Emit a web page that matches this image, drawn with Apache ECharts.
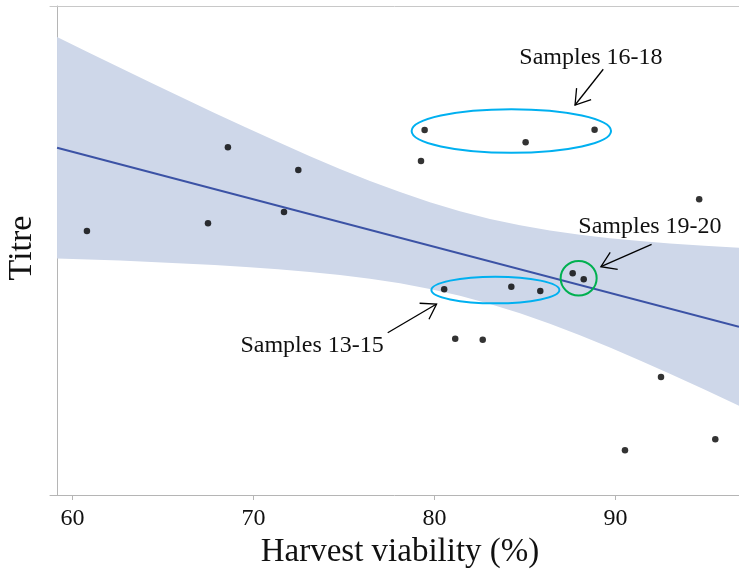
<!DOCTYPE html>
<html>
<head>
<meta charset="utf-8">
<script src="https://cdn.jsdelivr.net/npm/echarts@6/dist/echarts.min.js"></script>
<style>
html,body{margin:0;padding:0;background:#fff;}
#chart{width:739px;height:581px;}
</style>
</head>
<body>
<div id="chart"></div>
<script>
// ---- data ----
var xTicks = [60, 70, 80, 90];
var sampleX = [60.79, 67.48, 68.58, 71.68, 72.47, 79.25, 79.45, 85.03, 88.84, 80.53,
               84.24, 85.84, 87.63, 88.24, 81.14, 82.66, 94.62, 92.51, 90.52, 95.51];
var sampleY = [53.99, 55.56, 71.10, 57.87, 66.46, 68.30, 74.64, 72.13, 74.70, 42.07,
               42.60, 41.72, 45.34, 44.11, 31.96, 31.76, 60.47, 24.13, 9.14, 11.39];
var fitX = [59.14, 96.82];
var fitY = [71.02, 34.42];
var bandX = [59.14, 60.88, 62.62, 64.36, 66.10, 67.84, 69.58, 71.35, 73.11, 74.77, 76.43, 78.09,
             79.74, 81.40, 83.06, 84.72, 86.37, 88.03, 89.69, 91.35, 93.00, 94.91, 96.82];
var bandUpper = [93.66, 90.49, 87.36, 84.25, 81.17, 78.14, 75.13, 72.17, 69.28, 66.69, 64.21, 61.94,
                 59.88, 58.04, 56.46, 55.17, 54.11, 53.23, 52.52, 51.94, 51.45, 50.96, 50.57];
var bandLower = [48.38, 48.16, 47.93, 47.65, 47.34, 47.01, 46.63, 46.16, 45.60, 44.97, 44.21, 43.29,
                 42.13, 40.74, 39.08, 37.18, 35.01, 32.66, 30.14, 27.53, 24.79, 21.55, 18.26];
var xTitle = 'Harvest viability (%)';
var yTitle = 'Titre';
// annotations (data coordinates)
var ellipses = [
  {c: [84.24, 74.44], rx: 99.7, ry: 21.8, color: '#00b0f0'},
  {c: [83.36, 41.92], rx: 64, ry: 13.3, color: '#00b0f0'},
  {c: [87.96, 44.31], rx: 18, ry: 17.3, color: '#00b050'}
];
var notes = [
  {text: 'Samples 16-18', at: [88.64, 89.37], tail: [89.32, 87.06], tip: [87.76, 79.75]},
  {text: 'Samples 19-20', at: [91.90, 54.81], tail: [91.99, 51.27], tip: [89.19, 46.69]},
  {text: 'Samples 13-15', at: [73.23, 30.47], tail: [77.41, 33.19], tip: [80.11, 39.06]}
];

var serif = '"Liberation Serif", "Times New Roman", serif';
var chart = echarts.init(document.getElementById('chart'));

var bandData = bandX.map(function (x, i) { return [x, bandLower[i], bandUpper[i]]; });
var fitData = fitX.map(function (x, i) { return [x, fitY[i]]; });
var pts = sampleX.map(function (x, i) { return [x, sampleY[i]]; });

var xMin = 58.75, xMax = 96.82;
chart.setOption({
  animation: false,
  grid: {left: 50, right: 0, top: 6, bottom: 86},
  xAxis: [{
    type: 'value', min: xMin, max: xMax, position: 'bottom',
    axisLine: {show: true, lineStyle: {color: '#b5b5b5', width: 1}},
    axisTick: {show: true, length: 5, lineStyle: {color: '#b5b5b5'}, customValues: xTicks},
    axisLabel: {show: true, customValues: xTicks, margin: 12, color: '#111',
      fontFamily: serif, fontSize: 24},
    splitLine: {show: false}
  }, {
    type: 'value', min: xMin, max: xMax, position: 'top',
    axisLine: {show: true, lineStyle: {color: '#c8c8c8', width: 1}},
    axisTick: {show: false}, axisLabel: {show: false}, splitLine: {show: false}
  }],
  yAxis: {
    type: 'value', min: 0, max: 100, offset: -7,
    axisLine: {show: true, lineStyle: {color: '#b5b5b5', width: 1}},
    axisTick: {show: false}, axisLabel: {show: false}, splitLine: {show: false}
  },
  series: [
    {type: 'custom', data: bandData, silent: true, z: 1,
     encode: {x: 0, y: [1, 2]},
     renderItem: function (params, api) {
       if (params.dataIndex !== 0) return null;
       var up = [], lo = [];
       for (var i = 0; i < bandData.length; i++) {
         up.push(api.coord([bandData[i][0], bandData[i][2]]));
         lo.unshift(api.coord([bandData[i][0], bandData[i][1]]));
       }
       return {type: 'polygon', shape: {points: up.concat(lo)},
         style: {fill: '#ced7e9'}};
     }},
    {type: 'line', data: fitData, symbol: 'none',
     lineStyle: {color: '#3b52a5', width: 2}, z: 2},
    {type: 'scatter', data: pts, symbol: 'circle', symbolSize: 6.5,
     itemStyle: {color: '#000'}, z: 3}
  ]
});

function px(p) { return chart.convertToPixel({xAxisIndex: 0, yAxisIndex: 0}, p); }

var g = [];
ellipses.forEach(function (e) {
  var c = px(e.c);
  g.push({type: 'ellipse', shape: {cx: c[0], cy: c[1], rx: e.rx, ry: e.ry},
    style: {fill: null, stroke: e.color, lineWidth: 2}, z: 10});
});
notes.forEach(function (n) {
  var a = px(n.at), t0 = px(n.tail), t1 = px(n.tip);
  g.push({type: 'text', x: a[0], y: a[1], z: 11,
    style: {text: n.text, fill: '#111', font: '24px ' + serif, align: 'center', verticalAlign: 'middle'}});
  g.push({type: 'line', shape: {x1: t0[0], y1: t0[1], x2: t1[0], y2: t1[1]},
    style: {stroke: '#000', lineWidth: 1.3}, z: 11});
  var ang = Math.atan2(t0[1] - t1[1], t0[0] - t1[0]);
  var L = 17, d = 33 * Math.PI / 180;
  g.push({type: 'polyline', shape: {points: [
      [t1[0] + L * Math.cos(ang + d), t1[1] + L * Math.sin(ang + d)],
      [t1[0], t1[1]],
      [t1[0] + L * Math.cos(ang - d), t1[1] + L * Math.sin(ang - d)]]},
    style: {stroke: '#000', lineWidth: 1.3, fill: null}, z: 11});
});
g.push({type: 'text', x: 400, y: 552, z: 11,
  style: {text: xTitle, fill: '#111', font: '33px ' + serif, align: 'center', verticalAlign: 'middle'}});
g.push({type: 'text', x: 22, y: 248, rotation: Math.PI / 2, z: 11,
  style: {text: yTitle, fill: '#111', font: '34px ' + serif, align: 'center', verticalAlign: 'middle'}});
chart.setOption({graphic: {elements: g}});
</script>
</body>
</html>
